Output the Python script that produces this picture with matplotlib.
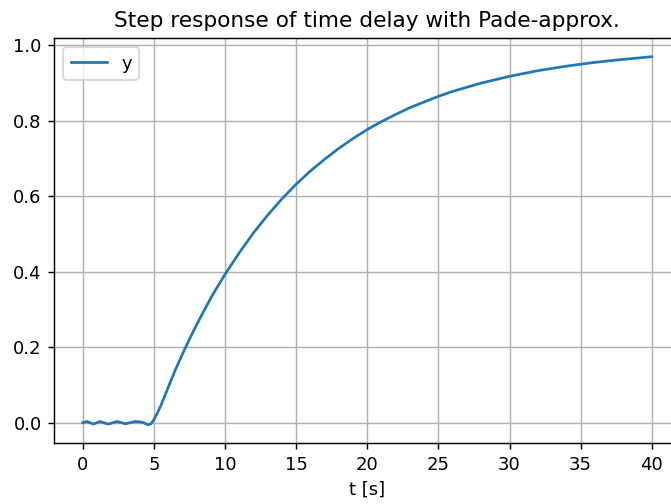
import numpy as np
import matplotlib
matplotlib.use("Agg")
import matplotlib.pyplot as plt

t = [0.0, 0.3, 0.75, 1.2, 1.8, 2.4, 3.0, 3.7, 4.2, 4.6, 4.8, 5.0, 5.2, 5.5,
     6.0, 6.5, 7.0, 7.5, 8.0, 8.5, 9.0, 9.5, 10.0, 11.0, 12.0, 13.0, 14.0,
     15.0, 16.0, 17.0, 18.0, 19.0, 20.0, 21.0, 22.0, 23.0, 24.0, 25.0, 26.0,
     27.0, 28.0, 29.0, 30.0, 32.0, 34.0, 36.0, 38.0, 40.0]
y = [0.0, 0.003, -0.004, 0.003, -0.004, 0.003, -0.003, 0.003, 0.001, -0.006, -0.003, 0.008, 0.022, 0.046,
     0.093, 0.139, 0.181, 0.221, 0.259, 0.295, 0.330, 0.362, 0.393, 0.450, 0.503, 0.550, 0.593,
     0.632, 0.667, 0.698, 0.727, 0.753, 0.777, 0.798, 0.817, 0.835, 0.850, 0.865, 0.878,
     0.889, 0.900, 0.909, 0.918, 0.933, 0.945, 0.955, 0.963, 0.970]

W, H = 671, 504
fig = plt.figure(figsize=(W/130, H/130), dpi=130)
# axes box as in the reference (right edge runs past the crop)
ax = fig.add_axes([54.3/W, 1 - 443.3/H, (680.2 - 54.3)/W, (443.3 - 38.3)/H])
ax.plot(t, y, label="y")
ax.grid(True)
ax.legend(loc="upper left")
ax.set_xlabel("t [s]")
ax.set_title("Step response of time delay with Pade-approx.")
fig.savefig("out.png", dpi=130)
